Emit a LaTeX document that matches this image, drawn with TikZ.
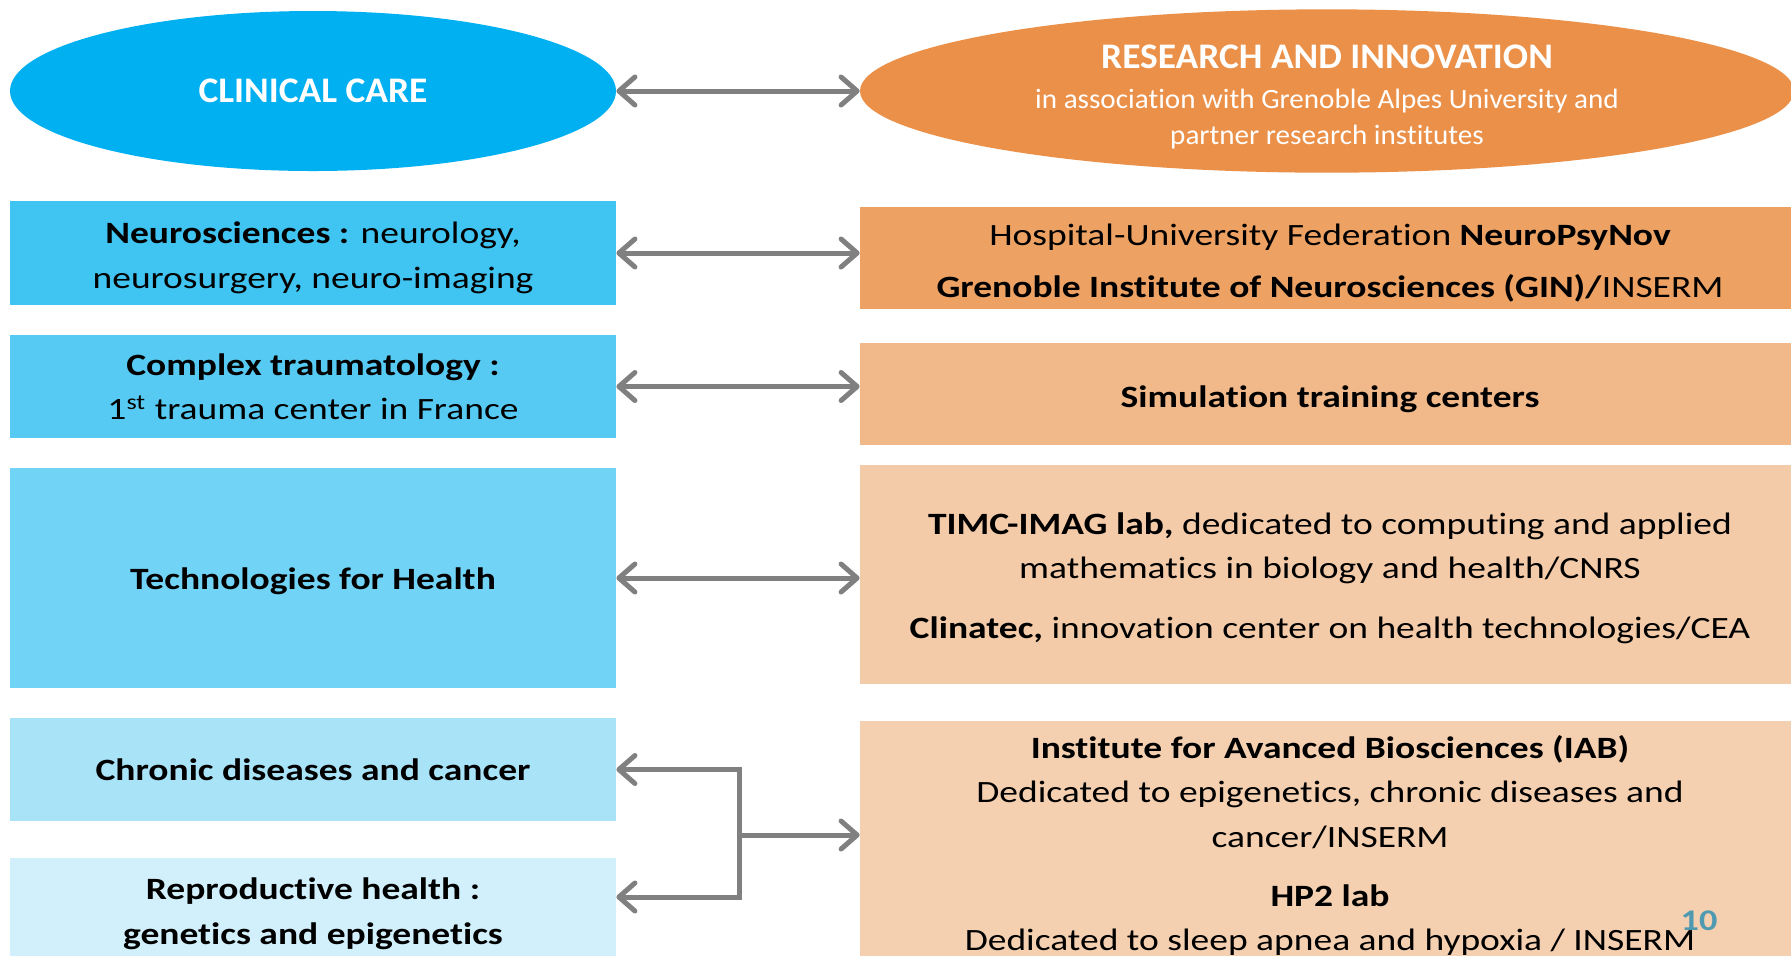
\documentclass[tikz,border=0pt]{standalone}
\usepackage{fontspec}
\setmainfont{Carlito}[FakeStretch=1.21,Ligatures=NoCommon]
\newfontfamily\titlefamily{Carlito}[FakeStretch=1.04,Ligatures=NoCommon]
\usetikzlibrary{arrows.meta,shapes.geometric,calc}
\definecolor{careblue}{HTML}{00B0F0}
\definecolor{resorange}{HTML}{EB9049}
\definecolor{blueA}{HTML}{40C4F1}
\definecolor{blueB}{HTML}{57CAF3}
\definecolor{blueC}{HTML}{71D3F6}
\definecolor{blueD}{HTML}{A9E3F8}
\definecolor{blueE}{HTML}{D2F0FB}
\definecolor{orangeA}{HTML}{EDA264}
\definecolor{orangeB}{HTML}{F1B98A}
\definecolor{orangeC}{HTML}{F4CBA9}
\definecolor{orangeD}{HTML}{F4D0B1}
\definecolor{linkgray}{HTML}{808080}
\definecolor{pagenum}{HTML}{4F9AB0}
\newcommand{\bodyfont}{\fontsize{15.5}{22.25}\selectfont}
\newcommand{\ovalfont}{\titlefamily\fontsize{18}{20}\selectfont\bfseries}
\newcommand{\subfont}{\titlefamily\fontsize{14}{17.75}\selectfont}
\begin{document}
\begin{tikzpicture}[x=0.5pt,y=-0.5pt,
  oval/.style={ellipse,inner sep=0pt,minimum height=80pt,text=white,align=center},
  lbox/.style={rectangle,inner sep=0pt,minimum width=303pt,align=center,font=\bodyfont},
  rbox/.style={rectangle,inner sep=0pt,minimum width=470pt,align=center,font=\bodyfont},
  link/.style={draw=linkgray,line width=2.5pt,
    {Straight Barb[round,length=8pt,width=14pt]}-{Straight Barb[round,length=8pt,width=14pt]}},
  onelink/.style={draw=linkgray,line width=2.5pt,-{Straight Barb[round,length=8pt,width=14pt]}}]
\useasboundingbox (0,0) rectangle (1791,955);
\clip (0,0) rectangle (1791,955);
% the two poles
\node[oval,fill=careblue,minimum width=303pt,font=\ovalfont] (care) at (313,91) {CLINICAL CARE};
\node[oval,fill=resorange,minimum width=467pt,font=\subfont] (research) at (1327,91)
  {\rule{0pt}{17.5pt}{\ovalfont RESEARCH AND INNOVATION}\\[2.5pt]
   in association with Grenoble Alpes University and\\
   partner research institutes};
% clinical care
\node[lbox,fill=blueA,minimum height=52pt] (neuro) at (313,253)
  {\rule{0pt}{15.5pt}\textbf{Neurosciences :} neurology,\\ neurosurgery, neuro-imaging};
\node[lbox,fill=blueB,minimum height=51.5pt] (trauma) at (313,386.5)
  {\textbf{Complex traumatology :}\\ 1\textsuperscript{st} trauma center in France};
\node[lbox,fill=blueC,minimum height=110pt] (tech) at (313,578)
  {\rule{0pt}{14.5pt}\textbf{Technologies for Health}};
\node[lbox,fill=blueD,minimum height=51.5pt] (chronic) at (313,769.5)
  {\textbf{Chronic diseases and cancer}};
\node[lbox,fill=blueE,minimum height=55.6pt] (repro) at (313,913.6)
  {\textbf{Reproductive health :}\\ \textbf{genetics and epigenetics}};
% research and innovation
\node[rbox,fill=orangeA,minimum height=51pt] (gin) at (1330,258)
  {\rule{0pt}{16pt}Hospital-University Federation \textbf{NeuroPsyNov}\\[3.5pt]
   \textbf{Grenoble Institute of Neurosciences (GIN)/}INSERM};
\node[rbox,fill=orangeB,minimum height=51pt] (sim) at (1330,394)
  {\rule{0pt}{16pt}\textbf{Simulation training centers}};
\node[rbox,fill=orangeC,minimum height=109.5pt] (timc) at (1330,574.5)
  {\rule{0pt}{14.5pt}\textbf{TIMC-IMAG lab,} dedicated to computing and applied\\
   mathematics in biology and health/CNRS\\[7.5pt]
   \textbf{Clinatec,} innovation center on health technologies/CEA};
\node[rbox,fill=orangeD,minimum height=124pt] (iab) at (1330,845)
  {\textbf{Institute for Avanced Biosciences (IAB)}\\
   Dedicated to epigenetics, chronic diseases and\\
   cancer/INSERM\\[7.5pt]
   \textbf{HP2 lab}\\[-0.5pt]
   Dedicated to sleep apnea and hypoxia / INSERM};
\node[font=\fontsize{15}{16}\selectfont\bfseries,text=pagenum] (page) at (1699,921) {10};
% links
\draw[link] (care.east) -- (research.west);
\draw[link] (neuro.east) -- (neuro.east -| gin.west);
\draw[link] (trauma.east) -- (trauma.east -| sim.west);
\draw[link] (tech.east) -- (tech.east -| timc.west);
\coordinate (fork) at (739,835);
\draw[onelink] (fork) -- (fork -| iab.west);
\draw[onelink] (fork) |- (chronic.east);
\draw[onelink] (fork) |- ([yshift=-19.7pt]repro.north east);
\end{tikzpicture}
\end{document}
